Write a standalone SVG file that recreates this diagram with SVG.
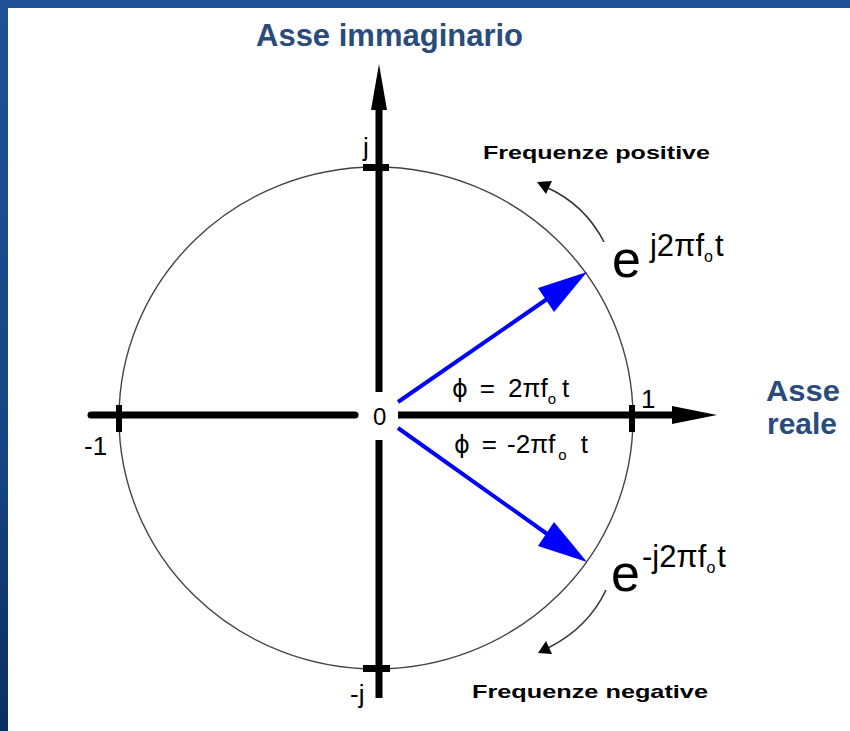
<svg xmlns="http://www.w3.org/2000/svg" width="850" height="731" viewBox="0 0 850 731">
<defs>
<linearGradient id="bg" x1="0" y1="0" x2="0" y2="1">
<stop offset="0" stop-color="#1f5096"/>
<stop offset="0.6" stop-color="#164684"/>
<stop offset="1" stop-color="#0b2f5e"/>
</linearGradient>
<style>
.ax{stroke:#000;stroke-width:7;fill:none}
.blk{fill:#000}
.vec{stroke:#0000ff;stroke-width:4;fill:none}
.vh{fill:#0000ff}
.arc{stroke:#333;stroke-width:1.6;fill:none}
.t{font-family:"Liberation Sans",Arial,sans-serif;fill:#000}
.ph{font-family:"DejaVu Sans","Liberation Sans",sans-serif}
.ttl{font-family:"Liberation Sans",Arial,sans-serif;font-weight:bold;font-size:31px;fill:#2a4b7c}
.ttl2{font-family:"Liberation Sans",Arial,sans-serif;font-weight:bold;font-size:29px;fill:#2a4b7c}
.fq{font-family:"Liberation Sans",Arial,sans-serif;font-weight:bold;font-size:19px;fill:#000}
</style>
</defs>
<rect x="0" y="0" width="850" height="731" fill="url(#bg)"/>
<rect x="8" y="8" width="842" height="723" fill="#fff"/>

<g id="circle">
<ellipse cx="376" cy="418" rx="257" ry="251" fill="none" stroke="#444" stroke-width="1.4"/>
</g>

<g id="connectors">
<g id="imag-axis">
<line class="ax" x1="379" y1="106" x2="379" y2="392"/>
<line class="ax" x1="379" y1="440" x2="379" y2="698"/>
<polygon class="blk" points="379,64 371,110 387,110"/>
</g>
<g id="real-axis">
<line class="ax" x1="91" y1="415" x2="355" y2="415" stroke-linecap="round"/>
<line class="ax" x1="398" y1="415" x2="676" y2="415"/>
<polygon class="blk" points="717,415 672,406 672,424"/>
</g>
<g id="ticks">
<rect class="blk" x="363" y="164" width="26" height="7"/>
<rect class="blk" x="363" y="665" width="27" height="7"/>
<rect class="blk" x="116" y="405" width="6" height="27"/>
<rect class="blk" x="629" y="405" width="6" height="27"/>
</g>
<g id="vec-pos">
<line class="vec" x1="398" y1="402" x2="550" y2="297"/>
<polygon class="vh" points="587,272 538,288 554,312"/>
</g>
<g id="vec-neg">
<line class="vec" x1="398" y1="428" x2="550" y2="536"/>
<polygon class="vh" points="587,562 538,546 554,522"/>
</g>
<g id="rot-pos">
<path class="arc" d="M604,242 Q585,205 548,188"/>
<polygon class="blk" points="537,182 552,181 546,194"/>
</g>
<g id="rot-neg">
<path class="arc" d="M606,590 Q588,628 548,648"/>
<polygon class="blk" points="538,653 546,641 552,654"/>
</g>
</g>

<g id="label-imag"><text class="ttl" x="256" y="46">Asse immaginario</text></g>
<g id="label-real">
<text class="ttl2" x="766" y="401" textLength="74" lengthAdjust="spacingAndGlyphs">Asse</text>
<text class="ttl2" x="767" y="434" textLength="70" lengthAdjust="spacingAndGlyphs">reale</text>
</g>
<g id="label-fpos"><text class="fq" x="483" y="159" textLength="227" lengthAdjust="spacingAndGlyphs">Frequenze positive</text></g>
<g id="label-fneg"><text class="fq" x="472" y="698" textLength="236" lengthAdjust="spacingAndGlyphs">Frequenze negative</text></g>

<g id="label-j"><text class="t" font-size="26" x="363" y="156">j</text></g>
<g id="label-mj"><text class="t" font-size="26" x="350" y="703">-j</text></g>
<g id="label-m1"><text class="t" font-size="26" x="84" y="455">-1</text></g>
<g id="label-1"><text class="t" font-size="26" x="641" y="408">1</text></g>
<g id="label-0"><text class="t" font-size="24" x="373" y="425">0</text></g>

<g id="label-phi-pos">
<text class="t" font-size="26" x="452" y="397"><tspan class="ph" font-size="24">ϕ</tspan><tspan dx="12">=</tspan><tspan dx="13">2πf</tspan><tspan dy="7" font-size="15">o</tspan><tspan dx="6" dy="-7">t</tspan></text>
</g>
<g id="label-phi-neg">
<text class="t" font-size="26" x="454" y="453"><tspan class="ph" font-size="24">ϕ</tspan><tspan dx="12">=</tspan><tspan dx="10">-2πf</tspan><tspan dx="3" dy="7" font-size="15">o</tspan><tspan dx="14" dy="-7">t</tspan></text>
</g>

<g id="label-exp-pos">
<text class="t" font-size="52" x="612" y="277">e<tspan dx="9" dy="-21" font-size="31">j2πf</tspan><tspan dy="6" font-size="16">o</tspan><tspan dx="2" dy="-6" font-size="31">t</tspan></text>
</g>
<g id="label-exp-neg">
<text class="t" font-size="52" x="611" y="591">e<tspan dx="2" dy="-24" font-size="31">-j2πf</tspan><tspan dy="6" font-size="16">o</tspan><tspan dx="2" dy="-6" font-size="31">t</tspan></text>
</g>
</svg>
